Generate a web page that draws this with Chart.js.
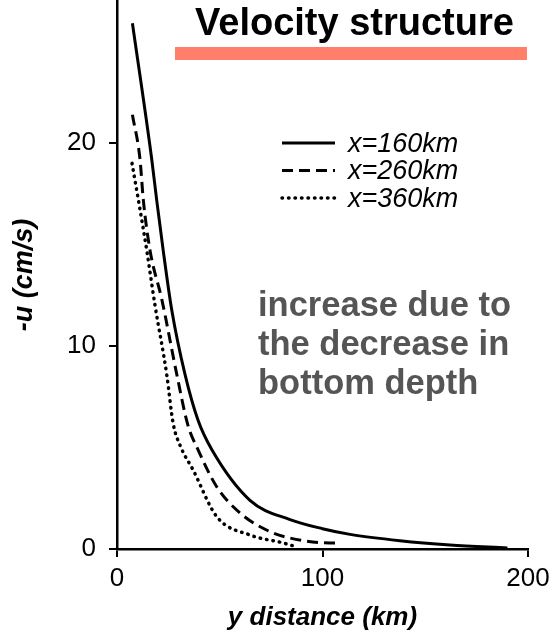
<!DOCTYPE html>
<html>
<head>
<meta charset="utf-8">
<script src="https://cdn.jsdelivr.net/npm/chart.js@4"></script>
<style>
  body { margin: 0; background: #fff; }
  #wrap { position: relative; width: 558px; height: 637px; }
  #titre { position: absolute; left: 195px; top: 1px; font: bold 38px "Liberation Sans", Arial, sans-serif; color: #000; white-space: nowrap; }
  #barre { position: absolute; left: 175px; top: 47px; width: 352px; height: 13px; background: #ff7f6a; }
  #note { position: absolute; left: 258px; top: 285px; font: bold 34.5px/39px "Liberation Sans", Arial, sans-serif; color: #555; white-space: nowrap; }
</style>
</head>
<body>
<div id="wrap">
  <canvas id="grafico" width="558" height="637"></canvas>
  <div id="titre">Velocity structure</div>
  <div id="barre"></div>
  <div id="note">increase due to<br>the decrease in<br>bottom depth</div>
</div>
<script>
// valores
const xTicks = [0, 100, 200];
const yTicks = [0, 10, 20];
const etiquetas = ["x=160km", "x=260km", "x=360km"];

const x160 = [7.5, 16.9, 19.3, 22.5, 26.6, 33.1, 39.4, 46.1, 64.7, 84.2, 100, 113.4, 137.7, 162, 190];
const u160 = [25.9, 19.2, 17.2, 14.7, 11.8, 8.6, 6.35, 4.9, 2.4, 1.45, 1.0, 0.72, 0.41, 0.2, 0.05];

const x260 = [7.5, 11.2, 12.8, 16.1, 21.8, 29.1, 34.5, 39.4, 48.5, 59.9, 74.5, 84.2, 103.6, 107.5];
const u260 = [21.4, 19.2, 17.2, 14.7, 12.3, 8.6, 6.1, 4.9, 3.07, 1.77, 0.85, 0.54, 0.3, 0.3];

const x360 = [7.3, 10.4, 14.5, 18.5, 24.2, 27.3, 30.7, 37, 48.5, 64.7, 80.8, 87.6];
const u360 = [19.0, 17.2, 14.7, 12.0, 8.6, 6.2, 5.1, 3.9, 1.6, 0.69, 0.3, 0.1];

const series = [
  { xs: x160, ys: u160, dash: [] },
  { xs: x260, ys: u260, dash: [11, 6] },
  { xs: x360, ys: u360, dash: [0.5, 6] },
];

const fuente = '"Liberation Sans", Arial, sans-serif';

const leyenda = {
  id: "leyenda",
  afterDatasetsDraw(chart) {
    const ctx = chart.ctx;
    ctx.save();
    chart.data.datasets.forEach((ds, i) => {
      const y = 143 + i * 27.5;
      ctx.strokeStyle = "#000";
      ctx.lineWidth = ds.borderWidth;
      ctx.lineCap = ds.borderCapStyle || "butt";
      ctx.setLineDash(ds.borderDash || []);
      ctx.beginPath();
      ctx.moveTo(282, y);
      ctx.lineTo(335, y);
      ctx.stroke();
      ctx.setLineDash([]);
      ctx.fillStyle = "#000";
      ctx.font = "italic 27px " + fuente;
      ctx.textBaseline = "middle";
      ctx.fillText(ds.label, 348, y + 1);
    });
    ctx.restore();
  },
};

const datasets = series.map((s, i) => ({
  label: etiquetas[i],
  data: s.xs.map((x, j) => ({ x: x, y: s.ys[j] })),
  showLine: true,
  borderColor: "#000",
  borderWidth: i === 2 ? 3.5 : 3,
  borderDash: s.dash,
  borderCapStyle: i === 2 ? "round" : "butt",
  pointRadius: 0,
  cubicInterpolationMode: "monotone",
}));

new Chart(document.getElementById("grafico").getContext("2d"), {
  type: "scatter",
  data: { datasets: datasets },
  options: {
    responsive: false,
    animation: false,
    layout: { padding: { left: 0, right: 30, top: 1, bottom: 0 } },
    plugins: { legend: { display: false }, tooltip: { enabled: false } },
    scales: {
      x: {
        type: "linear",
        min: 0,
        max: 200,
        afterFit: (s) => { s.height = 88; s.paddingLeft = 0; s.paddingRight = 0; },
        afterBuildTicks: (s) => { s.ticks = xTicks.map((v) => ({ value: v })); },
        border: { color: "#000", width: 2.5 },
        grid: { drawOnChartArea: false, color: "#000", lineWidth: 2, tickLength: 8 },
        ticks: { color: "#000", font: { family: fuente, size: 26 }, padding: 6 },
        title: { display: true, text: "y distance (km)", color: "#000", font: { family: fuente, size: 26, style: "italic", weight: "bold" }, padding: { top: 0, bottom: 4 } },
      },
      y: {
        min: 0,
        max: 27,
        afterFit: (s) => { s.width = 117; s.paddingTop = 0; s.paddingBottom = 0; },
        afterBuildTicks: (s) => { s.ticks = yTicks.map((v) => ({ value: v })); },
        border: { color: "#000", width: 2.5 },
        grid: { drawOnChartArea: false, color: "#000", lineWidth: 2, tickLength: 8 },
        ticks: { color: "#000", font: { family: fuente, size: 26 }, padding: 13 },
        title: { display: true, text: "-u (cm/s)", color: "#000", font: { family: fuente, size: 27, style: "italic", weight: "bold" }, padding: { top: 8, bottom: 0 } },
      },
    },
  },
  plugins: [leyenda],
});
</script>
</body>
</html>
